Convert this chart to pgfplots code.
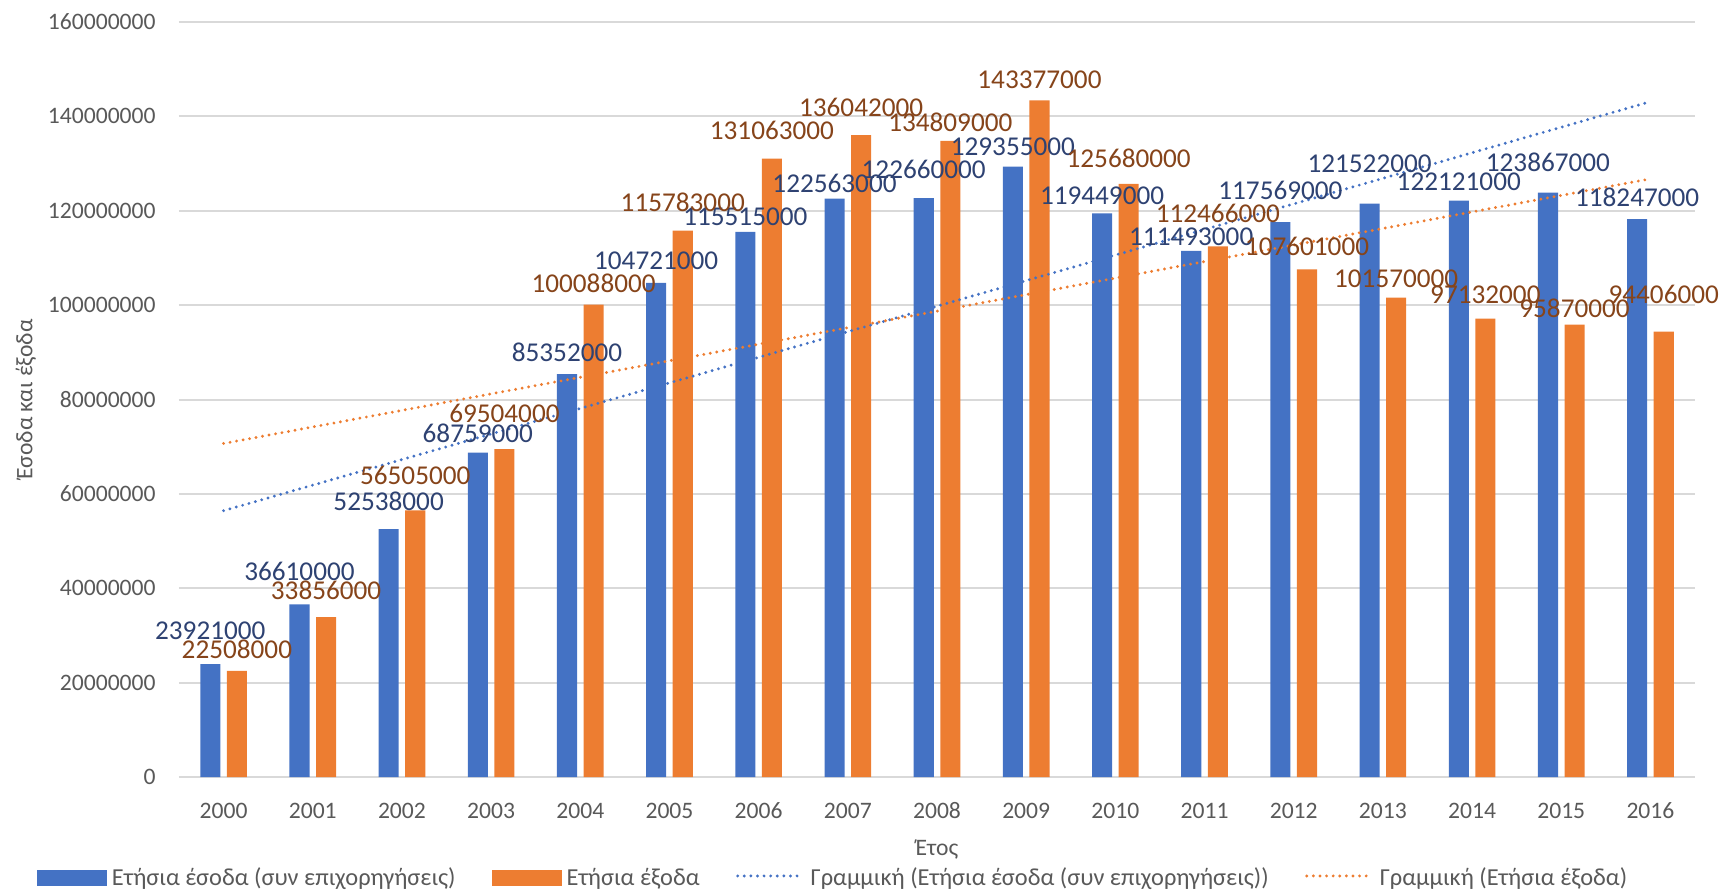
\documentclass[border=0pt]{standalone}
\usepackage{fontspec}
\setmainfont{Carlito}
\usepackage{pgfplots}
\usepackage{pgfplotstable}
\pgfplotsset{compat=1.18}
\definecolor{cblue}{HTML}{4472C4}
\definecolor{corange}{HTML}{ED7D31}
\definecolor{lblue}{HTML}{2E4272}
\definecolor{lorange}{HTML}{86441A}
\definecolor{gridc}{HTML}{D9D9D9}
\definecolor{txt}{HTML}{595959}
\newcommand\ticks{\fontsize{11.8}{14}\selectfont}
\newcommand\legf{\fontsize{12.2}{14}\selectfont}
\newcommand\dlab{\fontsize{13.6}{16}\selectfont}

\pgfplotstableread{
x y lab dy
0 23921000 23921000 12.5
1 36610000 36610000 12
2 52538000 52538000 9.5
3 68759000 68759000 5
4 85352000 85352000 6.5
5 104721000 104721000 6.5
6 115515000 115515000 3
7 122563000 122563000 3
8 122660000 122660000 9.75
9 129355000 129355000 5.5
10 119449000 119449000 4.5
11 111493000 111493000 2.5
12 117569000 117569000 11.5
13 121522000 121522000 15.5
14 122121000 122121000 5
15 123867000 123867000 10.5
16 118247000 118247000 6.5
}\revenue

\pgfplotstableread{
x y lab dy
0 22508000 22508000 6
1 33856000 33856000 9
2 56505000 56505000 13
3 69504000 69504000 13.5
4 100088000 100088000 6
5 115783000 115783000 9.5
6 131063000 131063000 9.5
7 136042000 136042000 9.25
8 134809000 134809000 4.5
9 143377000 143377000 6
10 125680000 125680000 8
11 112466000 112466000 11.75
12 107601000 107601000 7
13 101570000 101570000 5
14 97132000 97132000 7.5
15 95870000 95870000 3.5
16 94406000 94406000 14
}\expense

\begin{document}
\begin{tikzpicture}
\begin{axis}[
  scale only axis, width=758pt, height=377.5pt,
  xmin=-0.5, xmax=16.5, ymin=0, ymax=160000000,
  xtick={0,1,2,3,4,5,6,7,8,9,10,11,12,13,14,15,16},
  xticklabels={2000,2001,2002,2003,2004,2005,2006,2007,2008,2009,2010,2011,2012,2013,2014,2015,2016},
  ytick={0,20000000,40000000,60000000,80000000,100000000,120000000,140000000,160000000},
  yticklabels={0,20000000,40000000,60000000,80000000,100000000,120000000,140000000,160000000},
  scaled y ticks=false,
  ymajorgrids, grid style={draw=gridc, line width=1pt},
  axis x line*=bottom, axis y line*=left,
  x axis line style={draw=gridc, line width=1pt, -},
  y axis line style={draw=none},
  major tick length=0pt, tick style={draw=none},
  tick label style={font=\ticks, text=txt},
  xticklabel style={anchor=base, inner sep=0pt, yshift=-20.5pt},
  yticklabel style={anchor=east, inner sep=0pt, xshift=-11.5pt},
  xlabel={Έτος}, ylabel={Έσοδα και έξοδα},
  xlabel style={at={(rel axis cs:0.5,-0.1046)}, anchor=base, inner sep=0pt, font=\ticks, text=txt},
  ylabel style={at={(rel axis cs:-0.1009,0.5)}, anchor=center, inner sep=0pt, font=\ticks, text=txt},
  legend columns=4,
  legend style={at={(rel axis cs:-0.0937,-0.1337)}, anchor=west, draw=none, fill=none,
    inner sep=0pt, outer sep=0pt, font=\legf, text=txt, nodes={inner sep=0pt},
    /tikz/every odd column/.append style={column sep=2.5pt},
    /tikz/every even column/.append style={column sep=18pt}},
]
\addplot[ybar, bar width=0.225, bar shift=-0.149, fill=cblue, draw=none,
  legend image code/.code={\fill[cblue] (0pt,-4pt) rectangle (35pt,4pt);}]
  table[x=x, y=y] {\revenue};
\addplot[ybar, bar width=0.225, bar shift=0.149, fill=corange, draw=none,
  legend image code/.code={\fill[corange] (0pt,-4pt) rectangle (35pt,4pt);}]
  table[x=x, y=y] {\expense};
\addplot[cblue, line width=1.6pt, line cap=round, dash pattern=on 0pt off 3.3pt,
  legend image code/.code={\draw[cblue, line width=1.6pt, line cap=round, dash pattern=on 0pt off 3.3pt] (1pt,1pt) -- (31pt,1pt); \path[draw=none, fill=none] (0pt,-4pt) rectangle (35pt,4pt);}]
  coordinates {(0,56435700) (16,143124500)};
\addplot[corange, line width=1.6pt, line cap=round, dash pattern=on 0pt off 3.3pt,
  legend image code/.code={\draw[corange, line width=1.6pt, line cap=round, dash pattern=on 0pt off 3.3pt] (1pt,1pt) -- (31pt,1pt); \path[draw=none, fill=none] (0pt,-4pt) rectangle (35pt,4pt);}]
  coordinates {(0,70681100) (16,126761300)};
\addplot[draw=none, mark=none, forget plot,
  point meta=explicit symbolic, nodes near coords,
  visualization depends on={\thisrow{dy} \as \dy},
  every node near coord/.append style={anchor=base, inner sep=0pt, xshift=-6.65pt, yshift=\dy, text=lblue, font=\dlab}]
  table[x=x, y=y, meta=lab] {\revenue};
\addplot[draw=none, mark=none, forget plot,
  point meta=explicit symbolic, nodes near coords,
  visualization depends on={\thisrow{dy} \as \dy},
  every node near coord/.append style={anchor=base, inner sep=0pt, xshift=6.65pt, yshift=\dy, text=lorange, font=\dlab}]
  table[x=x, y=y, meta=lab] {\expense};
\legend{Ετήσια έσοδα (συν επιχορηγήσεις), Ετήσια έξοδα, Γραμμική (Ετήσια έσοδα (συν επιχορηγήσεις)), Γραμμική (Ετήσια έξοδα)}
\end{axis}
\pgfresetboundingbox
\path[use as bounding box] (current axis.south west) ++(-89.5pt,-56.5pt) rectangle ++(861pt,445pt);
\end{tikzpicture}
\end{document}
